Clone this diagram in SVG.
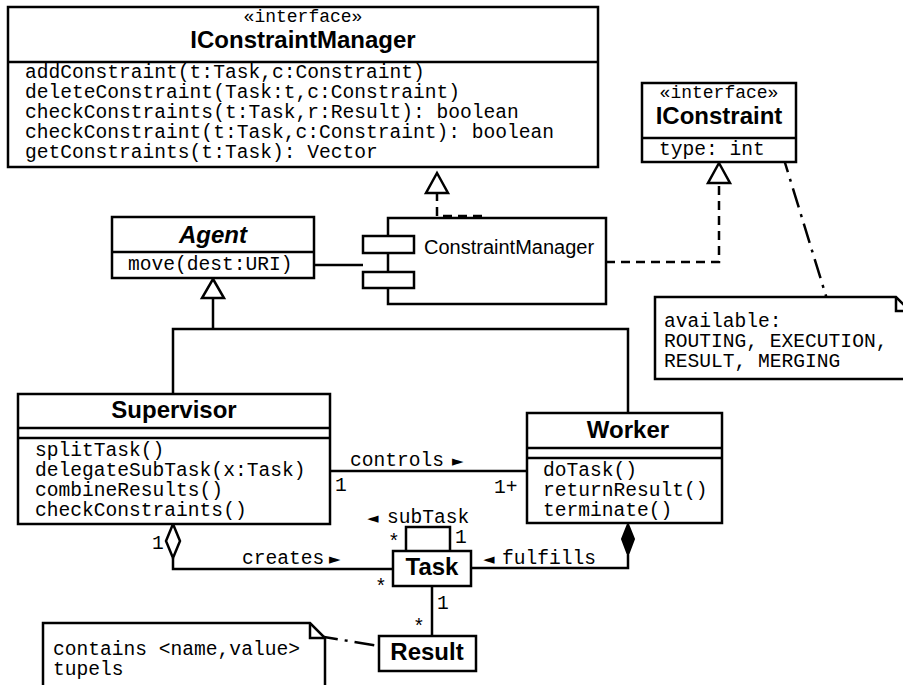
<svg xmlns="http://www.w3.org/2000/svg" width="903" height="685" viewBox="0 0 903 685">
<style>
.box{fill:#fff;stroke:#000;stroke-width:2.5}
.ln{fill:none;stroke:#000;stroke-width:2.5}
.dash{stroke-dasharray:9 6}
.dd{stroke-dasharray:20 7 3 7}
.mono{font-family:"Liberation Mono","Courier New",monospace;font-size:19.6px;fill:#000}
.stereo{font-family:"Liberation Mono","Courier New",monospace;font-size:18px;fill:#000;text-anchor:middle}
.name{font-family:"Liberation Sans",Arial,sans-serif;font-weight:bold;font-size:24px;text-anchor:middle;fill:#000}
.sans{font-family:"Liberation Sans",Arial,sans-serif;font-size:20px;fill:#000}
.tri{font-family:"DejaVu Sans",sans-serif;font-size:15px}
.hollow{fill:#fff;stroke:#000;stroke-width:2.5}
.filled{fill:#000;stroke:#000;stroke-width:2}
</style>
<rect width="903" height="685" fill="#fff"/>

<g id="connectors">
  <path class="ln dash" d="M482,216 H437 V193"/>
  <polygon class="hollow" points="437,173 448,193 426,193"/>
  <path class="ln dash" d="M606,262 H719 V183"/>
  <polygon class="hollow" points="719,163 730,183 708,183"/>
  <path class="ln" d="M314,265 H363"/>
  <path class="ln" d="M173,394 V329 H628 V413"/>
  <path class="ln" d="M213,329 V298"/>
  <polygon class="hollow" points="213,279 224,298 202,298"/>
  <path class="ln" d="M330,471 H527"/>
  <text class="mono" x="350" y="466">controls<tspan class="tri" x="452">►</tspan></text>
  <text class="mono" x="335" y="491">1</text>
  <text class="mono" x="494" y="493">1+</text>
  <path class="ln" d="M173,558 V569 H393"/>
  <polygon class="hollow" points="173,524 180,541 173,558 166,541"/>
  <text class="mono" x="242" y="564">creates<tspan class="tri" x="329">►</tspan></text>
  <text class="mono" x="152" y="549">1</text>
  <text class="mono" x="375" y="593">*</text>
  <path class="ln" d="M628,555 V568 H471"/>
  <polygon class="filled" points="628,524 634,539 628,555 622,539"/>
  <text class="mono" x="483" y="564"><tspan class="tri">◄</tspan><tspan x="502">fulfills</tspan></text>
  <path class="ln" d="M406,551 V527 H450 V551"/>
  <text class="mono" x="367" y="523"><tspan class="tri">◄</tspan><tspan x="387">subTask</tspan></text>
  <text class="mono" x="388" y="548">*</text>
  <text class="mono" x="455" y="543">1</text>
  <path class="ln" d="M432,586 V636"/>
  <text class="mono" x="437" y="609">1</text>
  <text class="mono" x="413" y="633">*</text>
  <path class="ln dd" d="M782,153 L830,309"/>
  <path class="ln dd" d="M318,636 L379,646"/>
</g>

<g id="IConstraintManager">
  <rect class="box" x="8" y="7" width="590" height="160"/>
  <path class="ln" d="M8,62 H598"/>
  <text class="stereo" x="303" y="22">«interface»</text>
  <text class="name" x="303" y="48">IConstraintManager</text>
  <text class="mono" x="25" y="78">addConstraint(t:Task,c:Constraint)</text>
  <text class="mono" x="25" y="98">deleteConstraint(Task:t,c:Constraint)</text>
  <text class="mono" x="25" y="118">checkConstraints(t:Task,r:Result): boolean</text>
  <text class="mono" x="25" y="138">checkConstraint(t:Task,c:Constraint): boolean</text>
  <text class="mono" x="25" y="158">getConstraints(t:Task): Vector</text>
</g>

<g id="IConstraint">
  <rect class="box" x="642" y="83" width="154" height="79"/>
  <path class="ln" d="M642,138 H796"/>
  <text class="stereo" x="719" y="98">«interface»</text>
  <text class="name" x="719" y="124">IConstraint</text>
  <text class="mono" x="659" y="155">type: int</text>
</g>

<g id="ConstraintManager">
  <rect class="box" x="388" y="218" width="218" height="86"/>
  <rect class="box" x="363" y="236" width="51" height="17"/>
  <rect class="box" x="363" y="272" width="51" height="16"/>
  <text class="sans" x="424" y="254">ConstraintManager</text>
</g>

<g id="Agent">
  <rect class="box" x="112" y="217" width="202" height="61"/>
  <path class="ln" d="M112,252 H314"/>
  <text class="name" x="213" y="243" font-style="italic">Agent</text>
  <text class="mono" x="128" y="270">move(dest:URI)</text>
</g>

<g id="NoteConstraint">
  <path class="box" d="M655,297 H896 L910,311 V379 H655 Z"/>
  <path class="ln" d="M896,297 V311 H910"/>
  <text class="mono" x="664" y="327">available:</text>
  <text class="mono" x="664" y="347">ROUTING, EXECUTION,</text>
  <text class="mono" x="664" y="367">RESULT, MERGING</text>
</g>

<g id="Supervisor">
  <rect class="box" x="18" y="394" width="312" height="130"/>
  <path class="ln" d="M18,428 H330 M18,438 H330"/>
  <text class="name" x="174" y="418">Supervisor</text>
  <text class="mono" x="35" y="456">splitTask()</text>
  <text class="mono" x="35" y="476">delegateSubTask(x:Task)</text>
  <text class="mono" x="35" y="496">combineResults()</text>
  <text class="mono" x="35" y="516">checkConstraints()</text>
</g>

<g id="Worker">
  <rect class="box" x="527" y="413" width="195" height="110"/>
  <path class="ln" d="M527,448 H722 M527,458 H722"/>
  <text class="name" x="628" y="438">Worker</text>
  <text class="mono" x="543" y="476">doTask()</text>
  <text class="mono" x="543" y="496">returnResult()</text>
  <text class="mono" x="543" y="516">terminate()</text>
</g>

<g id="Task">
  <rect class="box" x="393" y="551" width="78" height="35"/>
  <text class="name" x="432" y="575">Task</text>
</g>

<g id="Result">
  <rect class="box" x="379" y="636" width="97" height="35"/>
  <text class="name" x="427" y="660">Result</text>
</g>

<g id="NoteResult">
  <path class="box" d="M43,623 H310 L325,638 V700 H43 Z"/>
  <path class="ln" d="M310,623 V638 H325"/>
  <text class="mono" x="53" y="655">contains &lt;name,value&gt;</text>
  <text class="mono" x="53" y="675">tupels</text>
</g>
</svg>
